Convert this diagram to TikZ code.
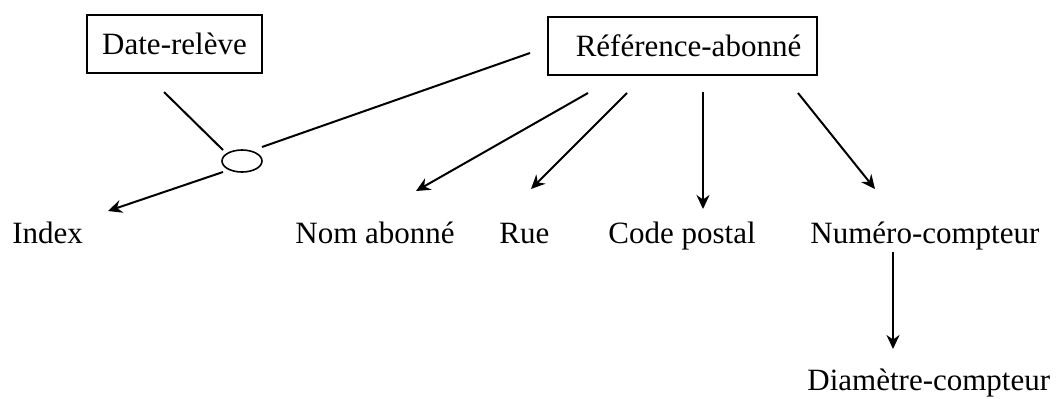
\documentclass[tikz,border=0pt]{standalone}
\usepackage{fontspec}
\setmainfont{Liberation Serif}
\usetikzlibrary{arrows.meta,shapes.geometric}
\begin{document}
\begin{tikzpicture}[x=0.5pt,y=-0.5pt,
  font=\fontsize{15.5}{18}\selectfont,
  entbox/.style={draw,line width=0.8pt,inner sep=0pt,minimum height=29pt},
  lbl/.style={anchor=base west,inner sep=0pt},
  conn/.style={line width=1pt},
  arr/.style={conn,-{Stealth[length=7pt,width=6.5pt]}}]
\fill[white] (0,0) rectangle (1058,398);
\useasboundingbox (0,0) rectangle (1058,398);
\node[entbox,minimum width=87.5pt] (date) at (174.5,44) {Date-relève};
\node[entbox,minimum width=134.5pt] (ref) at (682.5,46) {\hspace{6pt}Référence-abonné};
\node[draw,ellipse,line width=0.8pt,minimum width=20pt,minimum height=11pt,inner sep=0pt] (ell) at (242,161) {};
\node[lbl] (index) at (12,243) {Index};
\node[lbl] (nom) at (295,243) {Nom abonné};
\node[lbl] (rue) at (499,243) {Rue};
\node[lbl] (code) at (608,243) {Code postal};
\node[lbl] (num) at (810,243) {Numéro-compteur};
\node[lbl] (diam) at (807,390) {Diamètre-compteur};
% connector end points
\coordinate (d1) at (164,92);
\coordinate (d2) at (223,150);
\coordinate (r1) at (530,53);
\coordinate (r2) at (262,147);
\coordinate (e1) at (223,172);
\coordinate (i1) at (108,211);
\coordinate (n0) at (588,93);
\coordinate (n1) at (416,191);
\coordinate (u0) at (627,93);
\coordinate (u1) at (531,189);
\coordinate (c0) at (703,92);
\coordinate (c1) at (703,209);
\coordinate (m0) at (798,93);
\coordinate (m1) at (875,189);
\coordinate (k0) at (893,252);
\coordinate (k1) at (893,349);
\draw[conn] (d1) -- (d2);
\draw[conn] (r1) -- (r2);
\draw[arr] (e1) -- (i1);
\draw[arr] (n0) -- (n1);
\draw[arr] (u0) -- (u1);
\draw[arr] (c0) -- (c1);
\draw[arr] (m0) -- (m1);
\draw[arr] (k0) -- (k1);
\end{tikzpicture}
\end{document}
